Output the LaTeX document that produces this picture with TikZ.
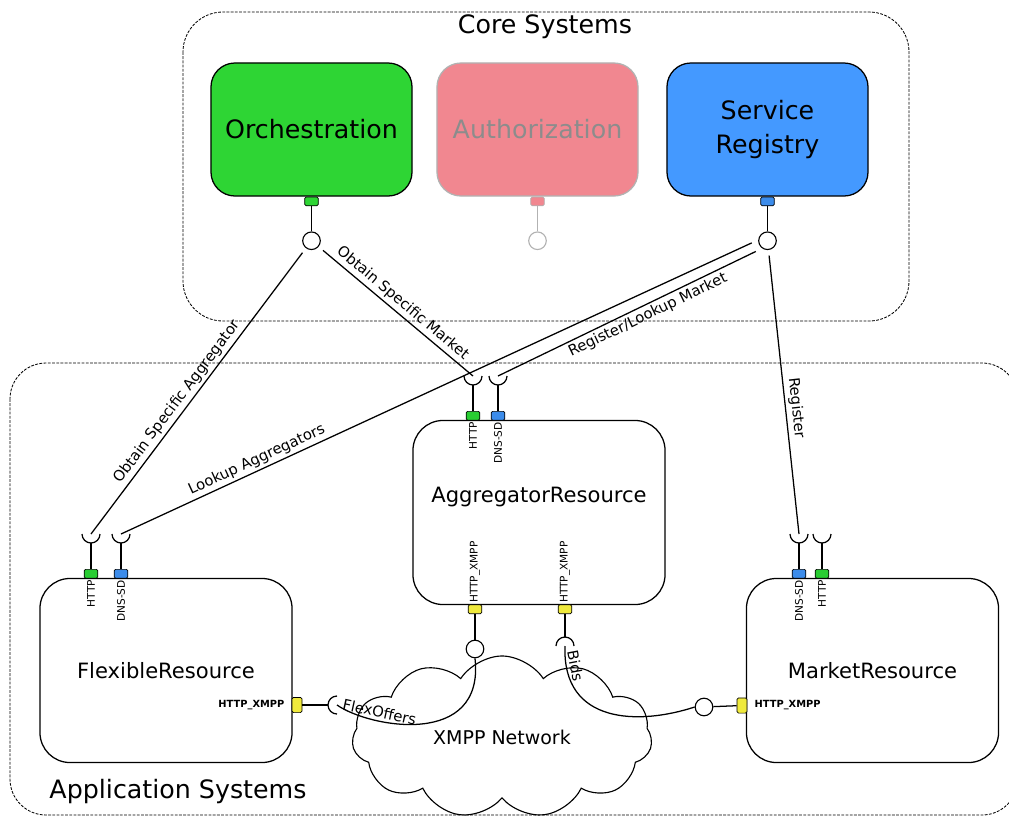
\documentclass[tikz,border=0pt]{standalone}
\usepackage{fontspec}
\setmainfont{DejaVu Sans}
\usetikzlibrary{positioning,shapes.symbols}

\definecolor{orchgreen}{RGB}{46,213,52}
\definecolor{authpink}{RGB}{241,135,144}
\definecolor{regblue}{RGB}{68,153,255}
\definecolor{portgreen}{RGB}{40,205,50}
\definecolor{portblue}{RGB}{60,140,235}
\definecolor{portyellow}{RGB}{240,234,60}

\tikzset{
  corebox/.style={rectangle, rounded corners=0.6cm, draw, line width=0.9pt, minimum width=5.025cm, minimum height=3.325cm, align=center, font=\fontsize{18}{24}\selectfont},
  resbox/.style={rectangle, rounded corners=0.75cm, draw, line width=0.9pt, minimum width=6.3cm, minimum height=4.6cm, font=\fontsize{15}{18}\selectfont},
  port/.style={rectangle, rounded corners=1pt, draw, line width=0.5pt, inner sep=0pt, minimum width=0.34cm, minimum height=0.22cm},
  vport/.style={port, minimum width=0.25cm, minimum height=0.38cm},
  lolli/.style={circle, draw, fill=white, line width=0.8pt, inner sep=0pt, minimum size=0.44cm},
  conn/.style={line width=0.9pt},
  portlbl/.style={font=\fontsize{7.5}{8}\selectfont, inner sep=1pt},
  linklbl/.style={font=\fontsize{10.5}{12}\selectfont, sloped, inner sep=2pt},
  area/.style={draw, line width=0.6pt, dash pattern=on 2pt off 1pt, rounded corners=1cm},
  pics/socket/.style={code={
    \draw[conn] (-0.225cm,0) arc[start angle=180, end angle=360, radius=0.225cm];
    \coordinate (-c) at (0,0);
    \coordinate (-b) at (0,-0.225cm);
  }}
}

\begin{document}
\begin{tikzpicture}[x=0.025cm, y=-0.025cm]
\clip (0,0) rectangle (1009,817);

% System groups
\draw[area] (183,12) rectangle (909,321);
\node[font=\fontsize{18}{22}\selectfont] (coreTitle) at (545,27) {Core Systems};
\draw[area, rounded corners=0.9cm] (10,363) rectangle (1018,815);
\node[font=\fontsize{18}{22}\selectfont] (appTitle) at (178,792) {Application Systems};

% Network
\node[cloud, draw, line width=0.8pt, cloud puffs=11, cloud puff arc=115, aspect=1.85, minimum width=7.5cm, minimum height=4.05cm, inner sep=0pt, font=\fontsize{13.5}{16}\selectfont] (xmpp) at (502,737) {XMPP Network};

% Core systems
\node[corebox, fill=orchgreen] (orch) at (311.5,129.5) {Orchestration};
\node[corebox, fill=authpink, draw=gray!60, text=gray!90] (auth) at (537.5,129.5) {Authorization};
\node[corebox, fill=regblue] (reg) at (767.5,129.5) {Service\\Registry};

\node[port, fill=orchgreen, anchor=north] (orchPort) at (orch.south) {};
\node[port, fill=authpink, draw=gray!60, anchor=north] (authPort) at (auth.south) {};
\node[port, fill=portblue, anchor=north] (regPort) at (reg.south) {};
\node[lolli, below=0.63cm of orchPort] (orchCirc) {};
\node[lolli, draw=gray!60, below=0.63cm of authPort] (authCirc) {};
\node[lolli, below=0.63cm of regPort] (srCirc) {};
\draw[conn] (orchPort) -- (orchCirc);
\draw[conn, draw=gray!60] (authPort) -- (authCirc);
\draw[conn] (regPort) -- (srCirc);

% Application systems
\node[resbox] (flex) at (166,670.5) {FlexibleResource};
\node[resbox] (aggr) at (539,512.5) {};
\node[font=\fontsize{15}{18}\selectfont] (aggrText) at (539,497) {AggregatorResource};
\node[resbox] (mkt) at (872.5,670.5) {MarketResource};

% FlexibleResource ports
\node[port, fill=portgreen, anchor=south] (flexHttp) at (91,578.5) {};
\node[port, fill=portblue, anchor=south] (flexDns) at (121,578.5) {};
\node[portlbl, rotate=90, anchor=east] (flexHttpLbl) at (flexHttp.south) {HTTP};
\node[portlbl, rotate=90, anchor=east] (flexDnsLbl) at (flexDns.south) {DNS-SD};
\pic (flexSockH) at (91,534) {socket};
\pic (flexSockD) at (121,534) {socket};
\draw[conn] (flexHttp) -- (flexSockH-b);
\draw[conn] (flexDns) -- (flexSockD-b);
\node[vport, fill=portyellow] (flexX) at (297,705) {};
\node[portlbl, font=\fontsize{7}{8}\selectfont\bfseries, left=4pt of flexX] (flexXLbl) {HTTP\_XMPP};
\pic[rotate=-90] (flexSock) at (337,705) {socket};
\draw[conn] (flexX) -- (flexSock-b);

% AggregatorResource ports
\node[port, fill=portgreen, anchor=south] (aggHttp) at (473,420.5) {};
\node[port, fill=portblue, anchor=south] (aggDns) at (498,420.5) {};
\node[portlbl, rotate=90, anchor=east] (aggHttpLbl) at (aggHttp.south) {HTTP};
\node[portlbl, rotate=90, anchor=east] (aggDnsLbl) at (aggDns.south) {DNS-SD};
\pic (aggSockH) at (473,376) {socket};
\pic (aggSockD) at (498,376) {socket};
\draw[conn] (aggHttp) -- (aggSockH-b);
\draw[conn] (aggDns) -- (aggSockD-b);
\node[port, fill=portyellow, anchor=north] (aggX1) at (475,604.5) {};
\node[port, fill=portyellow, anchor=north] (aggX2) at (565,604.5) {};
\node[portlbl, rotate=90, anchor=west] (aggX1Lbl) at (aggX1.north) {HTTP\_XMPP};
\node[portlbl, rotate=90, anchor=west] (aggX2Lbl) at (aggX2.north) {HTTP\_XMPP};
\node[lolli] (aggCirc) at (475,649) {};
\draw[conn] (aggX1) -- (aggCirc);
\pic[rotate=180] (aggSockB) at (565,646) {socket};
\draw[conn] (aggX2) -- (aggSockB-b);

% MarketResource ports
\node[port, fill=portblue, anchor=south] (mktDns) at (799,578.5) {};
\node[port, fill=portgreen, anchor=south] (mktHttp) at (822,578.5) {};
\node[portlbl, rotate=90, anchor=east] (mktDnsLbl) at (mktDns.south) {DNS-SD};
\node[portlbl, rotate=90, anchor=east] (mktHttpLbl) at (mktHttp.south) {HTTP};
\pic (mktSockD) at (799,534) {socket};
\pic (mktSockH) at (822,534) {socket};
\draw[conn] (mktDns) -- (mktSockD-b);
\draw[conn] (mktHttp) -- (mktSockH-b);
\node[vport, fill=portyellow] (mktX) at (742,705.5) {};
\node[portlbl, font=\fontsize{7}{8}\selectfont\bfseries, right=4pt of mktX] (mktXLbl) {HTTP\_XMPP};
\node[lolli] (mktCirc) at (704,707) {};
\draw[conn] (mktCirc) -- (mktX);

% Service links
\draw[conn, shorten <=4pt] (orchCirc) -- node[linklbl, above, pos=0.56] {Obtain Specific Aggregator} (flexSockH-c);
\draw[conn, shorten <=4pt] (orchCirc) -- node[linklbl, above, pos=0.5] {Obtain Specific Market} (aggSockH-c);
\draw[conn, shorten <=5pt] (srCirc.235) -- node[linklbl, below, pos=0.45] {Register/Lookup Market} (aggSockD-c);
\draw[conn, shorten <=5pt] (srCirc.175) -- node[linklbl, above, pos=0.78] {Lookup Aggregators} (flexSockD-c);
\draw[conn, shorten <=4pt] (srCirc) -- node[linklbl, above, pos=0.56] {Register} (mktSockD-c);

% XMPP links
\draw[conn] (flexSock-c) .. controls (370,728) and (485,748) .. node[linklbl, above, pos=0.27] {FlexOffers} (aggCirc.south);
\draw[conn] (aggSockB-c) .. controls (562,725) and (640,725) .. node[linklbl, above, pos=0.1] {Bids} (mktCirc.west);
\end{tikzpicture}
\end{document}
